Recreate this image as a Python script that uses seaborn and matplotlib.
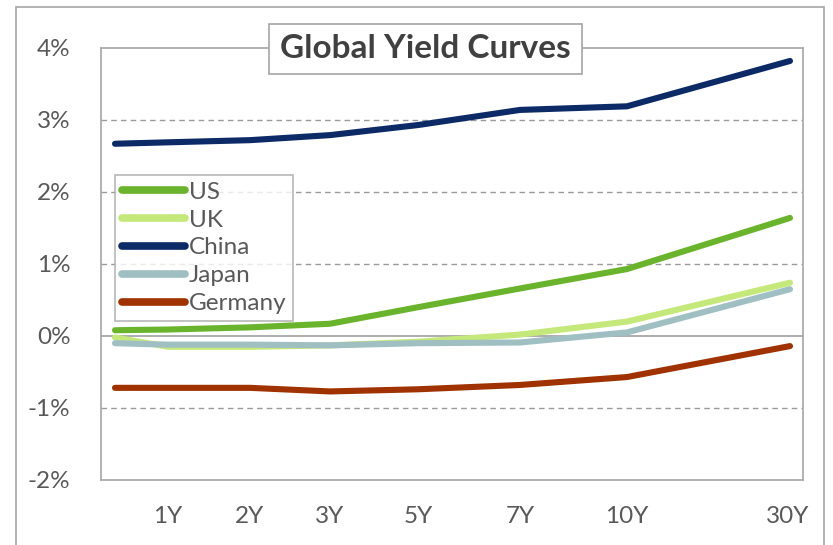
import matplotlib
matplotlib.use("Agg")
import matplotlib.pyplot as plt
import seaborn as sns
import pandas as pd
from matplotlib.patches import Rectangle

# ---- data ----
tenors = ["6M", "1Y", "2Y", "3Y", "5Y", "7Y", "10Y", "30Y"]
tenor_pos = [14, 67, 149, 229, 317, 419, 526, 689]   # axis position of each tenor
tick_labels = ["1Y", "2Y", "3Y", "5Y", "7Y", "10Y", "30Y"]
tick_pos = [67, 149, 229, 317, 419, 526, 687]

us = [0.08, 0.09, 0.12, 0.17, 0.40, 0.66, 0.93, 1.64]
uk = [-0.02, -0.15, -0.15, -0.13, -0.08, 0.02, 0.20, 0.74]
china = [2.67, 2.69, 2.72, 2.79, 2.93, 3.14, 3.19, 3.82]
japan = [-0.10, -0.12, -0.12, -0.13, -0.10, -0.09, 0.05, 0.65]
germany = [-0.72, -0.72, -0.72, -0.77, -0.74, -0.68, -0.57, -0.14]

series = {"US": us, "UK": uk, "China": china, "Japan": japan, "Germany": germany}
colors = {"US": "#6ab42d", "UK": "#c4e87a", "China": "#0b2a66",
          "Japan": "#9fbfc2", "Germany": "#a03200"}

rows = []
for name, vals in series.items():
    for t, p, v in zip(tenors, tenor_pos, vals):
        rows.append({"country": name, "tenor": t, "pos": p, "yield": v})
df = pd.DataFrame(rows)

# ---- plot ----
sns.set_theme(style="white")
plt.rcParams["font.family"] = ["Lato", "DejaVu Sans"]

W, H = 833, 545
fig = plt.figure(figsize=(W / 100, H / 100), dpi=100)
ax = fig.add_axes([101 / W, (H - 480) / H, 702 / W, 432 / H])

sns.lineplot(data=df, x="pos", y="yield", hue="country", palette=colors,
             hue_order=list(series.keys()), sort=False, linewidth=4.4,
             solid_capstyle="round", ax=ax, legend=True)

ax.set_xlim(0, 702)
ax.set_ylim(-2, 4)
ax.set_yticks([-2, -1, 0, 1, 2, 3, 4])
ax.set_yticklabels(["-2%", "-1%", "0%", "1%", "2%", "3%", "4%"])
ax.set_xticks(tick_pos)
ax.set_xticklabels(tick_labels)
ax.set_xlabel("")
ax.set_ylabel("")
ax.tick_params(axis="y", length=0, pad=22, labelsize=17.5, labelcolor="#595959")
ax.tick_params(axis="x", length=0, pad=19, labelsize=17.5, labelcolor="#595959")

for y in [-1, 1, 2, 3]:
    ax.axhline(y, color="#9a9a9a", linestyle=(0, (4, 3)), linewidth=1, zorder=0)
ax.axhline(0, color="#a0a0a0", linewidth=1.2, zorder=0)

for s in ax.spines.values():
    s.set_color("#a6a6a6")
    s.set_linewidth(1.2)

handles, labels = ax.get_legend_handles_labels()
leg = ax.legend(handles, labels, loc="upper left",
                bbox_to_anchor=(115 / W, 1 - 175 / H), bbox_transform=fig.transFigure,
                fontsize=17.5, frameon=True, fancybox=False, handlelength=2.6,
                handletextpad=0.15, labelspacing=0.28, borderpad=0.28,
                borderaxespad=0)
leg.get_frame().set_edgecolor("#a6a6a6")
leg.get_frame().set_linewidth(1.2)
for t in leg.get_texts():
    t.set_color("#595959")
for l in leg.get_lines():
    l.set_linewidth(5.5)
    l.set_solid_capstyle("round")

# outer chart border
fig.patches.append(Rectangle((16 / W, -0.1), (W - 17) / W - 16 / W + 0.01, 1 - 7 / H + 0.1,
                             transform=fig.transFigure, fill=False,
                             edgecolor="#a6a6a6", linewidth=1.2))

# title box
fig.text(425.5 / W, 1 - 49 / H, "Global Yield Curves", ha="center", va="center",
         fontsize=24, fontweight="bold", color="#404040",
         bbox=dict(boxstyle="square,pad=0.32", facecolor="white",
                   edgecolor="#a6a6a6", linewidth=1.2))

fig.savefig("out.png", dpi=100)
